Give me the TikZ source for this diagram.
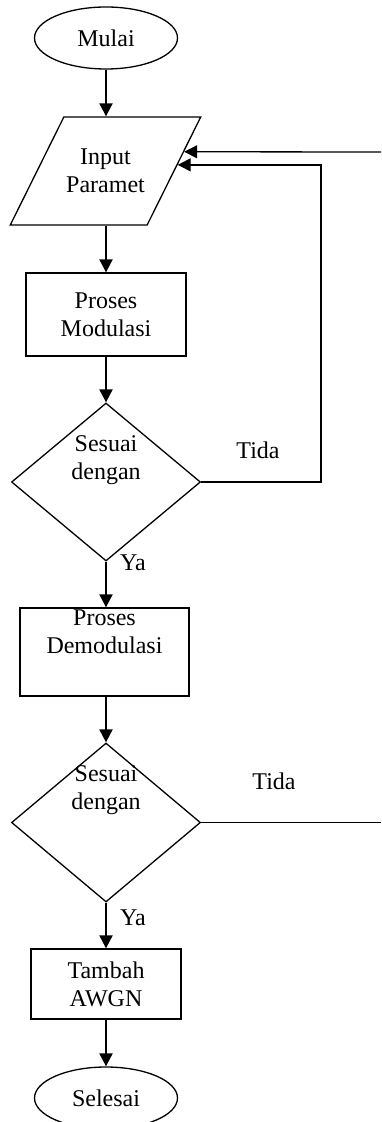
\documentclass[tikz,border=0pt]{standalone}
\usepackage{fontspec}
\setmainfont{Liberation Serif}
\usetikzlibrary{shapes.geometric,arrows.meta,calc}

\begin{document}
\begin{tikzpicture}[
x=0.5pt, y=-0.5pt,
every node/.style={font=\fontsize{12pt}{14pt}\selectfont, align=center},
terminal/.style={ellipse, draw=black, line width=0.65pt, minimum width=71.5pt, minimum height=31pt, inner sep=0pt},
io/.style={trapezium, trapezium left angle=41, trapezium right angle=139, trapezium stretches=true, draw=black, line width=0.65pt, minimum width=95.5pt, minimum height=54pt, inner sep=0pt},
process/.style={rectangle, draw=black, line width=0.65pt, inner sep=0pt},
decision/.style={diamond, draw=black, line width=0.65pt, minimum width=94.5pt, minimum height=79pt, inner sep=0pt},
flow/.style={-{Triangle[length=6.5pt, width=6.5pt]}, line width=1pt},
back/.style={-{Triangle[length=6.5pt, width=6.5pt]}, line width=0.65pt},
plainline/.style={line width=0.65pt},
]
\useasboundingbox (0,0) rectangle (381,1122);
\node[terminal] (start) at (106,38) {Mulai};
\node[io] (in) at (105.5,171) {Input\\Paramet};
\node[process, minimum width=80pt, minimum height=41.5pt] (mod) at (106,314.5) {Proses\\Modulasi};
\node[decision] (d1) at (106,482) {};
\node (d1text) at (106,460) {Sesuai\\dengan};
\node[process, minimum width=84.5pt, minimum height=44pt] (demod) at (104.5,652) {};
\node (demodtext) at (104.5,631.5) {Proses\\Demodulasi};
\node[decision, minimum height=79.5pt] (d2) at (106,822.5) {};
\node (d2text) at (106,790) {Sesuai\\dengan};
\node[process, minimum width=75pt, minimum height=35pt] (awgn) at (106,984) {Tambah\\AWGN};
\node[terminal] (stop) at (106,1098) {Selesai};
\node (ya1) at (133,563) {Ya};
\node (ya2) at (133,918) {Ya};
\node (tida1) at (258,450) {Tida};
\node (tida2) at (274,781) {Tida};

\coordinate (hitA) at ($(in.top right corner)!0.324!(in.bottom right corner)$);
\coordinate (hitB) at ($(in.top right corner)!0.444!(in.bottom right corner)$);
\coordinate (farA) at (381,152);
\coordinate (bend) at (321,482);

\draw[flow] (start.south) -- (start.south |- in.north);
\draw[flow] (in.south -| start) -- (mod.north);
\draw[flow] (mod.south) -- (d1.north);
\draw[flow] (d1.south) -- (d1.south |- demod.north);
\draw[flow] (d1.south |- demod.south) -- (d2.north);
\draw[flow] (d2.south) -- (awgn.north);
\draw[flow] (awgn.south) -- (stop.north);
\draw[back] (d1.east) -- (bend) |- (hitB);
\draw[back] (farA) -- (hitA);
\draw[plainline] (d2.east) -- (d2.east -| farA);
\end{tikzpicture}
\end{document}
